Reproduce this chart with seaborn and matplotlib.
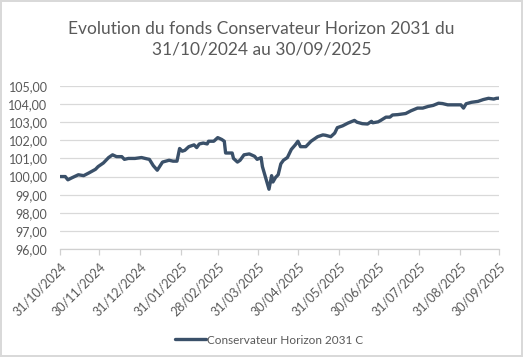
import matplotlib
matplotlib.use("Agg")
import matplotlib.pyplot as plt
from matplotlib.ticker import FuncFormatter
import pandas as pd
import seaborn as sns

# valeurs (VL base 100)
dates = [
    "2024-10-31", "2024-11-04", "2024-11-06", "2024-11-09", "2024-11-14", "2024-11-18",
    "2024-11-22", "2024-11-27", "2024-11-29", "2024-12-03", "2024-12-07", "2024-12-10",
    "2024-12-13", "2024-12-17", "2024-12-19", "2024-12-22", "2024-12-27", "2025-01-01",
    "2025-01-05", "2025-01-07", "2025-01-10", "2025-01-13", "2025-01-17", "2025-01-22",
    "2025-01-25", "2025-01-28", "2025-01-30", "2025-02-01", "2025-02-03", "2025-02-06",
    "2025-02-10", "2025-02-12", "2025-02-14", "2025-02-17", "2025-02-20", "2025-02-21",
    "2025-02-25", "2025-02-28", "2025-03-03", "2025-03-05", "2025-03-06", "2025-03-08",
    "2025-03-11", "2025-03-12", "2025-03-15", "2025-03-17", "2025-03-20", "2025-03-24",
    "2025-03-28", "2025-03-30", "2025-04-02", "2025-04-03", "2025-04-06", "2025-04-08",
    "2025-04-10", "2025-04-11", "2025-04-13", "2025-04-15", "2025-04-17", "2025-04-19",
    "2025-04-22", "2025-04-25", "2025-04-28", "2025-04-30", "2025-05-02", "2025-05-06",
    "2025-05-10", "2025-05-15", "2025-05-19", "2025-05-21", "2025-05-25", "2025-05-28",
    "2025-05-30", "2025-06-03", "2025-06-07", "2025-06-12", "2025-06-14", "2025-06-18",
    "2025-06-22", "2025-06-25", "2025-06-26", "2025-06-30", "2025-07-02", "2025-07-06",
    "2025-07-09", "2025-07-11", "2025-07-15", "2025-07-21", "2025-07-25", "2025-07-30",
    "2025-08-03", "2025-08-07", "2025-08-11", "2025-08-15", "2025-08-18", "2025-08-22",
    "2025-08-27", "2025-09-01", "2025-09-03", "2025-09-05", "2025-09-09", "2025-09-14",
    "2025-09-18", "2025-09-22", "2025-09-26", "2025-09-28", "2025-09-30",
]
values = [
    100.00, 100.00, 99.82, 99.93, 100.10, 100.05,
    100.20, 100.40, 100.55, 100.75, 101.05, 101.20,
    101.10, 101.10, 100.95, 101.00, 101.00, 101.05,
    100.98, 100.95, 100.60, 100.35, 100.80, 100.90,
    100.85, 100.85, 101.55, 101.40, 101.45, 101.65,
    101.75, 101.60, 101.80, 101.85, 101.80, 101.95,
    101.95, 102.15, 102.05, 101.95, 101.30, 101.30,
    101.30, 101.00, 100.80, 100.90, 101.20, 101.25,
    101.12, 100.95, 101.05, 100.55, 99.80, 99.30,
    100.05, 99.70, 99.95, 100.10, 100.70, 100.90,
    101.05, 101.50, 101.75, 101.95, 101.65, 101.65,
    101.95, 102.20, 102.30, 102.28, 102.20, 102.40,
    102.70, 102.80, 102.95, 103.10, 103.00, 102.92,
    102.90, 103.05, 102.97, 103.02, 103.10, 103.28,
    103.28, 103.40, 103.42, 103.48, 103.63, 103.78,
    103.78, 103.87, 103.93, 104.05, 104.03, 103.96,
    103.96, 103.96, 103.78, 104.02, 104.10, 104.15,
    104.25, 104.32, 104.28, 104.32, 104.33,
]
tick_dates = [
    "2024-10-31", "2024-11-30", "2024-12-31", "2025-01-31", "2025-02-28", "2025-03-31",
    "2025-04-30", "2025-05-31", "2025-06-30", "2025-07-31", "2025-08-31", "2025-09-30",
]
y_ticks = [96, 97, 98, 99, 100, 101, 102, 103, 104, 105]
series_name = "Conservateur Horizon 2031 C"
title = "Evolution du fonds Conservateur Horizon 2031 du\n31/10/2024 au 30/09/2025"

df = pd.DataFrame({"date": pd.to_datetime(dates), "vl": values, "fonds": series_name})
ticks = pd.to_datetime(tick_dates)

sns.set_style("white")
plt.rcParams["font.family"] = ["Lato", "DejaVu Sans"]

grey = "#595959"
line_col = "#3A5069"

fig = plt.figure(figsize=(5.23, 3.57), dpi=100)
fig.patch.set_edgecolor("#D9D9D9")
fig.patch.set_linewidth(1.5)
ax = fig.add_axes([60 / 523, 1 - 249 / 357, 439 / 523, 163 / 357])

sns.lineplot(data=df, x="date", y="vl", hue="fonds", palette=[line_col],
             linewidth=2.4, ax=ax)

ax.set_xlim(ticks[0], ticks[-1])
ax.set_ylim(96, 105)
ax.set_yticks(y_ticks)
ax.yaxis.set_major_formatter(FuncFormatter(lambda v, _: f"{v:.2f}".replace(".", ",")))
ax.set_xticks(ticks)
ax.set_xticklabels([d.strftime("%d/%m/%Y") for d in ticks], rotation=45,
                   ha="right", rotation_mode="anchor")
ax.set_xlabel("")
ax.set_ylabel("")

ax.yaxis.grid(True, color="#D9D9D9", linewidth=0.9)
ax.xaxis.grid(False)
for s in ["top", "right", "left"]:
    ax.spines[s].set_visible(False)
ax.spines["bottom"].set_color("#D0D0D0")
ax.spines["bottom"].set_linewidth(0.9)
ax.tick_params(axis="y", length=0, pad=9, labelsize=9, labelcolor=grey)
ax.tick_params(axis="x", length=4, width=0.9, color="#D0D0D0", pad=4,
               labelsize=9, labelcolor=grey, bottom=True)

fig.text(0.5, 1 - 39 / 357, title, ha="center", va="center", fontsize=12.5,
         color=grey, linespacing=1.35)

sns.move_legend(ax, "center", bbox_to_anchor=(0.515, 17 / 357),
                bbox_transform=fig.transFigure, frameon=False, title=None,
                fontsize=8.5, handlelength=2.6, handletextpad=0.1, labelcolor=grey)

fig.savefig("out.png", dpi=100, edgecolor=fig.get_edgecolor())
